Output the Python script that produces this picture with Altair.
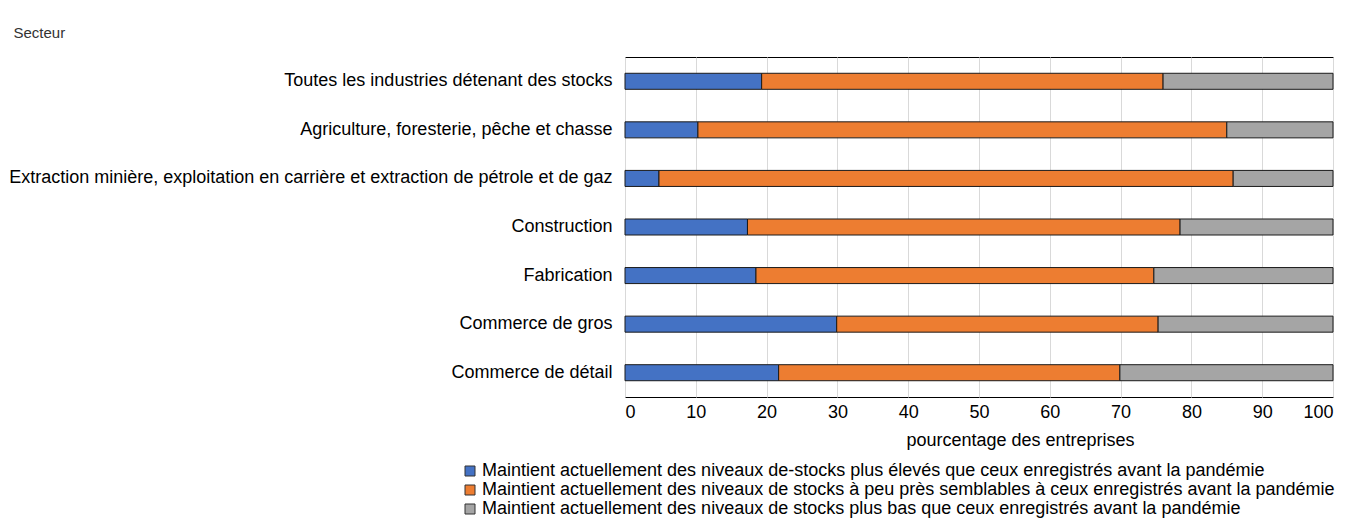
import altair as alt
import pandas as pd

sectors = [
    "Toutes les industries détenant des stocks",
    "Agriculture, foresterie, pêche et chasse",
    "Extraction minière, exploitation en carrière et extraction de pétrole et de gaz",
    "Construction",
    "Fabrication",
    "Commerce de gros",
    "Commerce de détail",
]
series = [
    "Maintient actuellement des niveaux de-stocks plus élevés que ceux enregistrés avant la pandémie",
    "Maintient actuellement des niveaux de stocks à peu près semblables à ceux enregistrés avant la pandémie",
    "Maintient actuellement des niveaux de stocks plus bas que ceux enregistrés avant la pandémie",
]
higher = [19.3, 10.3, 4.8, 17.3, 18.5, 29.9, 21.7]
similar = [56.7, 74.7, 81.1, 61.1, 56.2, 45.4, 48.2]
lower = [24.0, 15.0, 14.1, 21.6, 25.3, 24.7, 30.1]
colors = ["#4472C4", "#ED7D31", "#A5A5A5"]

rows = []
for i, s in enumerate(sectors):
    for j, (name, vals) in enumerate(zip(series, [higher, similar, lower])):
        rows.append({"Secteur": s, "Série": name, "ordre": j, "valeur": vals[i]})
df = pd.DataFrame(rows)

FONT = "Liberation Sans"

chart = alt.Chart(df).mark_bar(stroke="#1a1a1a", strokeWidth=1).encode(
    x=alt.X("valeur:Q", stack="zero",
            scale=alt.Scale(domain=[0, 100], nice=False),
            axis=alt.Axis(title="pourcentage des entreprises", values=list(range(0, 101, 10)),
                          grid=True, gridColor="#d9d9d9", ticks=False, domain=False,
                          labelFontSize=18, labelColor="#000000", labelPadding=6,
                          titleFontSize=18, titleFontWeight="normal", titleColor="#000000",
                          titleX=395, titleY=34, titleAlign="center")),
    y=alt.Y("Secteur:N", sort=sectors,
            scale=alt.Scale(paddingInner=0.67, paddingOuter=0.335),
            axis=alt.Axis(title="Secteur", titleAngle=0, titleAlign="left", titleBaseline="middle",
                          titleX=-612, titleY=-25, titleFontSize=15, titleFontWeight="normal",
                          titleColor="#333333",
                          ticks=False, domain=False, labelFontSize=18, labelColor="#000000",
                          labelPadding=13, labelLimit=800)),
    color=alt.Color("Série:N", sort=series,
                    scale=alt.Scale(domain=series, range=colors),
                    legend=alt.Legend(title=None, orient="none", legendX=-164, legendY=405,
                                      symbolType="square", symbolSize=100, symbolStrokeColor="#333333",
                                      symbolStrokeWidth=1, labelFontSize=18, labelColor="#000000",
                                      rowPadding=1, labelLimit=1000, symbolOffset=0, labelOffset=3)),
    order=alt.Order("ordre:Q", sort="ascending"),
).properties(
    width=708, height=340,
    padding={"top": 17, "left": 0, "right": 5, "bottom": 5}
).configure(
    font=FONT
).configure_view(
    stroke="#000000", strokeWidth=1
)

chart.save("out.html", embed_options={"renderer": "svg", "actions": False})
